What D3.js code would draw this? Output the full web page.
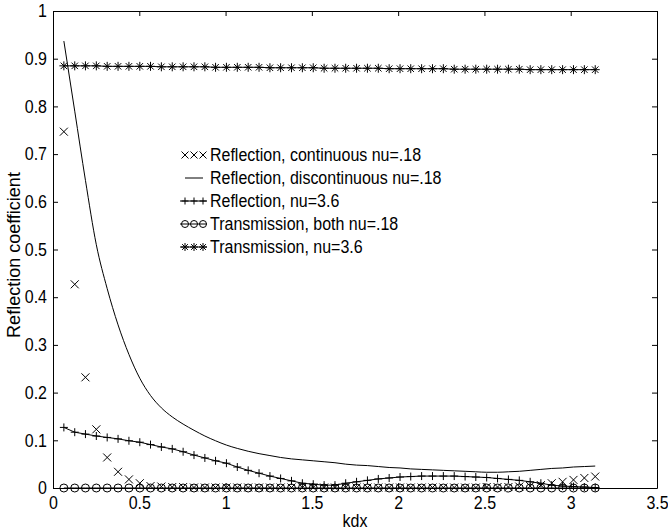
<!DOCTYPE html>
<html>
<head>
<meta charset="utf-8">
<script src="https://cdn.jsdelivr.net/npm/d3@7"></script>
<style>
  html, body { margin: 0; padding: 0; background: #fff; }
  svg { display: block; }
  text { font-family: "Liberation Sans", Arial, Helvetica, sans-serif; fill: #000; }
  .stretch { transform-box: fill-box; transform-origin: center; transform: scaleY(1.12); }
</style>
</head>
<body>
<svg id="chart" width="668" height="532"></svg>
<script>
// ---------------- data ----------------
const kdx = [0.063, 0.126, 0.188, 0.251, 0.314, 0.377, 0.440, 0.503, 0.565, 0.628,
             0.691, 0.754, 0.817, 0.880, 0.942, 1.005, 1.068, 1.131, 1.194, 1.257,
             1.319, 1.382, 1.445, 1.508, 1.571, 1.634, 1.696, 1.759, 1.822, 1.885,
             1.948, 2.011, 2.073, 2.136, 2.199, 2.262, 2.325, 2.388, 2.450, 2.513,
             2.576, 2.639, 2.702, 2.765, 2.827, 2.890, 2.953, 3.016, 3.079, 3.142];

// Reflection, continuous nu=.18 (x markers)
const reflContinuous = [0.747, 0.427, 0.232, 0.123, 0.064, 0.034, 0.018, 0.010, 0.004, 0.003,
                        0.002, 0.002, 0.001, 0.001, 0.001, 0.001, 0.001, 0.001, 0.001, 0.001,
                        0.001, 0.001, 0.001, 0.001, 0.001, 0.001, 0.001, 0.001, 0.001, 0.001,
                        0.001, 0.001, 0.001, 0.001, 0.001, 0.001, 0.001, 0.001, 0.001, 0.002,
                        0.002, 0.002, 0.003, 0.004, 0.006, 0.010, 0.013, 0.017, 0.021, 0.024];

// Reflection, discontinuous nu=.18 (solid line)
const reflDiscontinuous = [0.937, 0.790, 0.645, 0.510, 0.418, 0.342, 0.280, 0.230, 0.194, 0.168,
                           0.149, 0.134, 0.121, 0.109, 0.099, 0.090, 0.083, 0.077, 0.072, 0.068,
                           0.064, 0.061, 0.059, 0.057, 0.055, 0.053, 0.050, 0.048, 0.047, 0.045,
                           0.043, 0.042, 0.040, 0.039, 0.038, 0.037, 0.036, 0.035, 0.034, 0.033,
                           0.033, 0.034, 0.035, 0.037, 0.039, 0.041, 0.042, 0.044, 0.045, 0.046];

// Reflection, nu=3.6 (+ markers with line)
const reflNu36 = [0.127, 0.117, 0.113, 0.109, 0.106, 0.103, 0.099, 0.096, 0.091, 0.086,
                  0.082, 0.076, 0.069, 0.063, 0.057, 0.052, 0.044, 0.037, 0.031, 0.025,
                  0.020, 0.015, 0.010, 0.008, 0.006, 0.006, 0.010, 0.013, 0.016, 0.019,
                  0.021, 0.023, 0.024, 0.025, 0.025, 0.025, 0.025, 0.024, 0.023, 0.022,
                  0.020, 0.018, 0.016, 0.013, 0.010, 0.006, 0.004, 0.003, 0.002, 0.001];

// Transmission, both nu=.18 (circle markers with line)
const transBoth = [0, 0, 0, 0, 0, 0, 0, 0, 0, 0,
                   0, 0, 0, 0, 0, 0, 0, 0, 0, 0,
                   0, 0, 0, 0, 0, 0, 0, 0, 0, 0,
                   0, 0, 0, 0, 0, 0, 0, 0, 0, 0,
                   0, 0, 0, 0, 0, 0, 0, 0, 0, 0];

// Transmission, nu=3.6 (asterisk markers with line)
const transNu36 = [0.885, 0.885, 0.885, 0.885, 0.884, 0.884, 0.884, 0.884, 0.884, 0.883,
                   0.883, 0.883, 0.883, 0.883, 0.882, 0.882, 0.882, 0.882, 0.882, 0.881,
                   0.881, 0.881, 0.881, 0.881, 0.880, 0.880, 0.880, 0.880, 0.880, 0.880,
                   0.879, 0.879, 0.879, 0.879, 0.879, 0.879, 0.878, 0.878, 0.878, 0.878,
                   0.878, 0.878, 0.878, 0.877, 0.877, 0.877, 0.877, 0.877, 0.877, 0.877];

const xTicks = [0, 0.5, 1, 1.5, 2, 2.5, 3, 3.5];
const xTickLabels = ["0", "0.5", "1", "1.5", "2", "2.5", "3", "3.5"];
const yTicks = [0, 0.1, 0.2, 0.3, 0.4, 0.5, 0.6, 0.7, 0.8, 0.9, 1];
const yTickLabels = ["0", "0.1", "0.2", "0.3", "0.4", "0.5", "0.6", "0.7", "0.8", "0.9", "1"];

const legendLabels = ["Reflection, continuous nu=.18",
                      "Reflection, discontinuous nu=.18",
                      "Reflection, nu=3.6",
                      "Transmission, both nu=.18",
                      "Transmission, nu=3.6"];

const xLabel = "kdx";
const yLabel = "Reflection coefficient";

// ---------------- layout ----------------
const svg = d3.select("#chart");
const L = 53, R = 657, T = 11, B = 488;
const x = d3.scaleLinear().domain([0, 3.5]).range([L, R]);
const y = d3.scaleLinear().domain([0, 1]).range([B, T]);
const TICK = 5;

function markerPath(type, s) {
  const h = s / 2;
  if (type === "x") return `M${-h},${-h}L${h},${h}M${-h},${h}L${h},${-h}`;
  if (type === "plus") return `M${-h},0L${h},0M0,${-h}L0,${h}`;
  if (type === "star") {
    const d = h * 0.72;
    return `M${-h},0L${h},0M0,${-h}L0,${h}M${-d},${-d}L${d},${d}M${-d},${d}L${d},${-d}`;
  }
  return "";
}

function drawMarkers(g, values, type, size) {
  const pts = kdx.map((k, i) => [x(k), y(values[i])]);
  if (type === "circle") {
    g.selectAll(null).data(pts).enter().append("circle")
      .attr("cx", d => d[0]).attr("cy", d => d[1]).attr("r", size / 2)
      .attr("fill", "none").attr("stroke", "#000").attr("stroke-width", 1);
  } else {
    g.selectAll(null).data(pts).enter().append("path")
      .attr("transform", d => `translate(${d[0]},${d[1]})`)
      .attr("d", markerPath(type, size))
      .attr("fill", "none").attr("stroke", "#000").attr("stroke-width", 1);
  }
}

function drawLine(g, values, curve) {
  const line = d3.line().x((d, i) => x(kdx[i])).y(d => y(d));
  if (curve) line.curve(curve);
  g.append("path").datum(values).attr("d", line)
    .attr("fill", "none").attr("stroke", "#000").attr("stroke-width", 1);
}

// ---------------- axes ----------------
const fmtX = d => xTickLabels[xTicks.indexOf(d)];
const fmtY = d => yTickLabels[yTicks.indexOf(d)];

const gx = svg.append("g").attr("transform", `translate(0,${B})`)
  .call(d3.axisBottom(x).tickValues(xTicks).tickFormat(fmtX)
        .tickSizeInner(-TICK).tickSizeOuter(0).tickPadding(9));
const gy = svg.append("g").attr("transform", `translate(${L},0)`)
  .call(d3.axisLeft(y).tickValues(yTicks).tickFormat(fmtY)
        .tickSizeInner(-TICK).tickSizeOuter(0).tickPadding(6));
const gt = svg.append("g").attr("transform", `translate(0,${T})`)
  .call(d3.axisTop(x).tickValues(xTicks).tickFormat("")
        .tickSizeInner(-TICK).tickSizeOuter(0));
const gr = svg.append("g").attr("transform", `translate(${R},0)`)
  .call(d3.axisRight(y).tickValues(yTicks).tickFormat("")
        .tickSizeInner(-TICK).tickSizeOuter(0));

[gx, gy, gt, gr].forEach(g => {
  g.selectAll(".domain").attr("stroke", "#000").attr("stroke-width", 1);
  g.selectAll(".tick line").attr("stroke", "#000").attr("stroke-width", 1);
  g.selectAll("text").attr("font-size", 16)
    .attr("font-family", "'Liberation Sans', Arial, Helvetica, sans-serif")
    .attr("fill", "#000").classed("stretch", true);
});

svg.append("text").attr("x", (x(0) + x(3.5)) / 2).attr("y", 526)
  .attr("text-anchor", "middle").attr("font-size", 16).classed("stretch", true).text(xLabel);
svg.append("text").attr("transform", `translate(20,255) rotate(-90)`)
  .attr("text-anchor", "middle").attr("font-size", 18).text(yLabel);

// ---------------- series ----------------
const plot = svg.append("g");
drawLine(plot, reflDiscontinuous, d3.curveMonotoneX);
drawLine(plot, reflNu36);
drawMarkers(plot, reflNu36, "plus", 8);
drawLine(plot, transBoth);
drawMarkers(plot, transBoth, "circle", 8);
drawLine(plot, transNu36);
drawMarkers(plot, transNu36, "star", 9);
drawMarkers(plot, reflContinuous, "x", 8);

// ---------------- legend ----------------
const legend = svg.append("g");
const legTypes = ["x", "line", "plus", "circle", "star"];
const legY0 = 155, legDy = 23;
const sx = [185, 194, 203];
legTypes.forEach((t, i) => {
  const yy = legY0 + i * legDy;
  if (t !== "x") {
    legend.append("line").attr("x1", t === "line" ? 185 : 180).attr("x2", t === "line" ? 203 : 207)
      .attr("y1", yy).attr("y2", yy).attr("stroke", "#000").attr("stroke-width", 1);
  }
  if (t === "circle") {
    sx.forEach(cx => legend.append("circle").attr("cx", cx).attr("cy", yy).attr("r", 3.5)
      .attr("fill", "none").attr("stroke", "#000"));
  } else if (t !== "line") {
    sx.forEach(cx => legend.append("path").attr("transform", `translate(${cx},${yy})`)
      .attr("d", markerPath(t, t === "star" ? 8 : 7)).attr("fill", "none").attr("stroke", "#000"));
  }
  legend.append("text").attr("x", 210).attr("y", yy).attr("dy", "0.36em")
    .attr("font-size", 16).classed("stretch", true).text(legendLabels[i]);
});
</script>
</body>
</html>
